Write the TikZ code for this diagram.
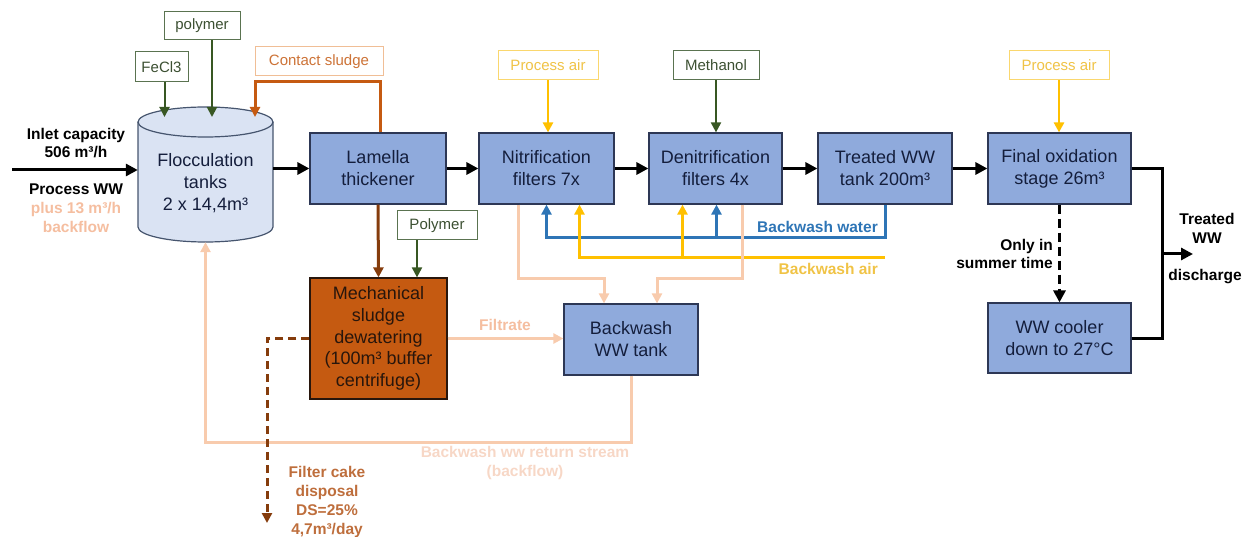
\documentclass[tikz,border=0pt]{standalone}
\usepackage{fontspec}
\setmainfont{Liberation Sans}
\usetikzlibrary{arrows.meta,calc}
\definecolor{boxblue}{RGB}{143,170,220}
\definecolor{boxline}{RGB}{45,55,85}
\definecolor{boxtext}{RGB}{20,30,60}
\definecolor{cylfill}{RGB}{218,227,243}
\definecolor{cylline}{RGB}{70,85,110}
\definecolor{chemgreen}{RGB}{56,87,35}
\definecolor{chemline}{RGB}{90,115,80}
\definecolor{chemtext}{RGB}{60,80,50}
\definecolor{airyellow}{RGB}{255,192,0}
\definecolor{airline}{RGB}{250,215,110}
\definecolor{airtext}{RGB}{240,195,70}
\definecolor{sludgeor}{RGB}{197,90,17}
\definecolor{csline}{RGB}{240,190,150}
\definecolor{cstext}{RGB}{205,115,55}
\definecolor{brownline}{RGB}{133,60,12}
\definecolor{mechtext}{RGB}{40,22,12}
\definecolor{bwblue}{RGB}{46,117,182}
\definecolor{peach}{RGB}{248,203,173}
\definecolor{peachtext}{RGB}{245,190,160}
\definecolor{palepeach}{RGB}{247,215,198}
\definecolor{caketext}{RGB}{190,110,60}
\tikzset{
  procbox/.style={draw=boxline, line width=1.2pt, fill=boxblue, text=boxtext, align=center,
    font=\fontsize{18}{22}\selectfont, minimum width=135pt, minimum height=71pt, inner sep=0pt},
  chembox/.style={draw=chemline, line width=1pt, fill=white, text=chemtext,
    font=\fontsize{15}{18}\selectfont, minimum height=29pt, inner sep=0pt},
  airbox/.style={chembox, draw=airline, text=airtext},
  csbox/.style={chembox, draw=csline, text=cstext},
  lbl/.style={font=\bfseries\fontsize{15.5}{19}\selectfont, align=center, inner sep=0pt},
  tip/.style={-{Triangle[length=12pt,width=12pt]}},
  smalltip/.style={-{Triangle[length=10pt,width=10pt]}},
  mainflow/.style={line width=3pt, black, tip},
  chemflow/.style={line width=2pt, chemgreen, smalltip},
  airflow/.style={line width=2.5pt, airyellow, smalltip},
  bwflow/.style={line width=3pt, bwblue, smalltip},
  peachflow/.style={line width=3pt, peach, smalltip},
  brownflow/.style={line width=3pt, brownline, smalltip},
  orflow/.style={line width=3pt, sludgeor, smalltip},
}
\begin{document}
\begin{tikzpicture}[x=1pt,y=-1pt]
\useasboundingbox (0,0) rectangle (1252,537);

% flocculation cylinder
\path[fill=cylfill] (138,122) -- (138,227) arc[start angle=180,end angle=0,x radius=67.5,y radius=15]
  -- (273,122) arc[start angle=0,end angle=-180,x radius=67.5,y radius=15] -- cycle;
\draw[cylline, line width=1.2pt] (138,122) -- (138,227) arc[start angle=180,end angle=0,x radius=67.5,y radius=15] -- (273,122);
\draw[cylline, line width=1.2pt] (205.5,122) ellipse[x radius=67.5, y radius=15];
\node[minimum width=135pt, minimum height=135pt, inner sep=0pt] (floc) at (205.5,174.5) {};
\node[align=center, text=boxtext, font=\fontsize{18}{22}\selectfont] (floctext) at (205.5,183) {Flocculation\\tanks\\2 x 14,4m³};
\coordinate (floctop) at (205.5,117);

% process boxes
\node[procbox, minimum width=136pt] (lam) at (378,168.5) {Lamella\\thickener};
\node[procbox] (nit) at (546.5,168.5) {Nitrification\\filters 7x};
\node[procbox, minimum width=133pt] (den) at (715.5,168.5) {Denitrification\\filters 4x};
\node[procbox, minimum width=134pt] (tww) at (885,168.5) {Treated WW\\tank 200m³};
\node[procbox, minimum width=143pt] (fin) at (1059.5,168.5) {Final oxidation\\stage 26m³};
\node[procbox, minimum width=143pt, minimum height=70pt] (cool) at (1059.5,338) {WW cooler\\down to 27°C};
\node[procbox, minimum width=134pt] (bwt) at (631,339.5) {Backwash\\WW tank};
\node[procbox, fill=sludgeor, draw=mechtext, text=mechtext, minimum width=137pt, minimum height=121pt,
  font=\fontsize{18}{21.7}\selectfont] (mech) at (378.5,338.5) {Mechanical\\sludge\\dewatering\\(100m³ buffer\\centrifuge)};

% chemical boxes
\node[chembox, minimum width=53pt, minimum height=30pt] (fecl) at (161.5,67) {FeCl3};
\node[chembox, minimum width=76pt, minimum height=28pt] (poly) at (202,26) {polymer};
\node[csbox, minimum width=128pt] (csl) at (319,61.5) {Contact sludge};
\node[airbox, minimum width=100pt] (pa1) at (548,65.5) {Process air};
\node[chembox, minimum width=86pt] (meth) at (716,65.5) {Methanol};
\node[airbox, minimum width=100pt] (pa3) at (1059,65.5) {Process air};
\node[chembox, minimum width=80pt] (poly2) at (437,225.5) {Polymer};

% main flow
\coordinate (inletstart) at (12,170);
\draw[mainflow] (inletstart) -- (floc.west |- inletstart);
\draw[mainflow] (floc.east |- lam.west) -- (lam.west);
\draw[mainflow] (lam.east) -- (nit.west);
\draw[mainflow] (nit.east) -- (den.west);
\draw[mainflow] (den.east) -- (tww.west);
\draw[mainflow] (tww.east) -- (fin.west);

% chemicals
\draw[chemflow] ([xshift=3pt]fecl.south) -- ([xshift=3pt]fecl.south |- floctop);
\draw[chemflow] ([xshift=10pt]poly.south) -- ([xshift=10pt]poly.south |- floctop);
\draw[chemflow] (meth.south) -- (meth.south |- den.north);
\draw[chemflow] ([xshift=-20pt]poly2.south) -- ([xshift=-20pt]poly2.south |- mech.north);
\draw[airflow] (pa1.south) -- (pa1.south |- nit.north);
\draw[airflow] (pa3.south) -- (pa3.south |- fin.north);

% contact sludge
\coordinate (csend) at (255,117);
\draw[orflow] ([xshift=2pt]lam.north) |- (csend |- 0,82) -- (csend);

% lamella to dewatering
\draw[brownflow] (lam.south) -- (mech.north);

% backwash water
\draw[bwflow] (tww.south) -- (tww.south |- 0,238) -| (nit.south);
\draw[bwflow] ([xshift=1pt]den.south |- 0,238) -- ([xshift=1pt]den.south);

% backwash air
\coordinate (bwair) at (885,258);
\draw[airflow, line width=3pt] (bwair) -| ([xshift=33pt]nit.south);
\draw[airflow, line width=3pt] ([xshift=-33pt]den.south |- bwair) -- ([xshift=-33pt]den.south);

% backwash to backwash tank
\draw[peachflow] ([xshift=-28pt]nit.south) -- ++(0,74) -| ([xshift=-27pt]bwt.north);
\draw[peachflow] ([xshift=27pt]den.south) -- ++(0,74) -| ([xshift=26pt]bwt.north);

% filtrate
\draw[peachflow] (mech.east) -- (bwt.west |- mech.east);

% return stream
\draw[peachflow] (bwt.south) -- (bwt.south |- 0,442) -| (floc.south);

% filter cake
\coordinate (cake) at (267,523);
\draw[brownflow, dash pattern=on 8pt off 5pt] (mech.west) -| (cake);

% final outputs
\draw[line width=3.5pt, dash pattern=on 9pt off 5pt, tip] (fin.south) -- (cool.north);
\coordinate (junc) at (1162,254);
\coordinate (outend) at (1193,254);
\draw[line width=3pt] (fin.east) -| (junc);
\draw[line width=3pt] (cool.east) -| (junc);
\draw[mainflow] (junc) -- (outend);

% labels
\node[lbl, font=\bfseries\fontsize{15.5}{17.5}\selectfont] (inlettext) at (76,143) {Inlet capacity\\506 m³/h};
\node[lbl] (pwwtext) at (76,208.5) {Process WW\\\textcolor{peachtext}{plus 13 m³/h}\\\textcolor{peachtext}{backflow}};
\node[lbl, text=peachtext] (filtext) at (505,325) {Filtrate};
\node[lbl, text=palepeach] (rettext) at (525,462.5) {Backwash ww return stream\\(backflow)};
\node[lbl, text=caketext] (caketext) at (327,501.5) {Filter cake\\disposal\\DS=25\%\\4,7m³/day};
\node[lbl, text=bwblue, anchor=east] (bwwtext) at (878,227) {Backwash water};
\node[lbl, text=airtext, anchor=east] (bwatext) at (878,269) {Backwash air};
\node[lbl, align=right, anchor=east, font=\bfseries\fontsize{15.5}{18}\selectfont] (summertext) at (1053,254) {Only in\\summer time};
\node[lbl] (treatedtext) at (1207,228.5) {Treated\\WW};
\node[lbl] (dischtext) at (1205,277) {discharge};
\end{tikzpicture}
\end{document}
